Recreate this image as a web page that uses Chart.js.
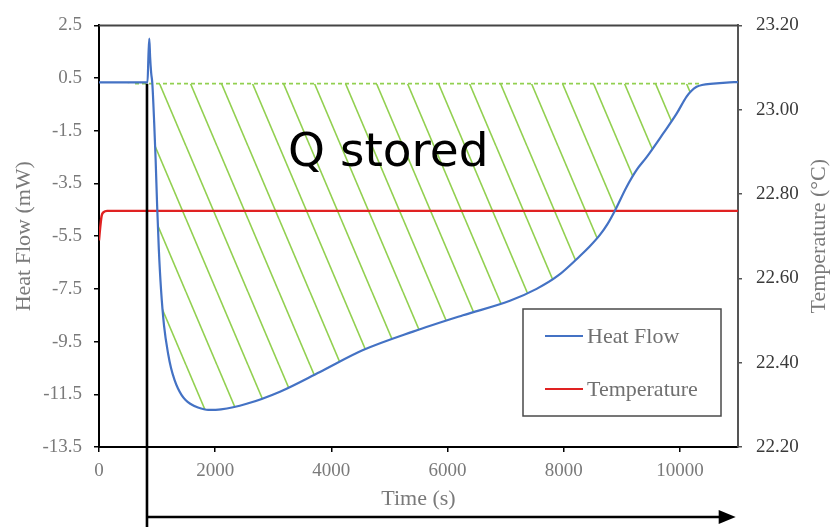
<!DOCTYPE html>
<html>
<head>
<meta charset="utf-8">
<script src="https://cdn.jsdelivr.net/npm/chart.js@4/dist/chart.umd.min.js"></script>
<style>
  html, body { margin: 0; padding: 0; background: #ffffff; }
  #wrap { width: 830px; height: 527px; position: relative; }
</style>
</head>
<body>
<div id="wrap"><canvas id="chart" width="830" height="527"></canvas></div>
<script>
// Axis ticks
const timeTicks = [0, 2000, 4000, 6000, 8000, 10000];
const heatFlowTicks = [-13.5, -11.5, -9.5, -7.5, -5.5, -3.5, -1.5, 0.5, 2.5];
const tempTicks = [22.2, 22.4, 22.6, 22.8, 23.0, 23.2];

// Heat flow trace (time in s, heat flow in mW)
const hfTime = [0, 500, 835, 852, 866, 880, 898, 918, 950, 975, 1000, 1030, 1067, 1120, 1193, 1240, 1300, 1360, 1420, 1490, 1570, 1704, 1880, 2100, 2542, 3115, 3804, 4546, 5405, 6266, 7074, 7533, 7900, 8279, 8450, 8623, 8750, 8881, 9082, 9250, 9427, 9713, 9943, 10115, 10200, 10287, 10380, 10573, 10800, 11000];
const hfValue = [0.34, 0.34, 0.34, 1.4, 2.0, 1.3, 0.7, 0.3, -1.2, -2.6, -4.3, -6.0, -7.5, -8.9, -10.0, -10.5, -10.95, -11.28, -11.52, -11.72, -11.86, -12.0, -12.09, -12.07, -11.86, -11.4, -10.65, -9.82, -9.12, -8.5, -7.95, -7.5, -7.0, -6.25, -5.88, -5.45, -5.05, -4.53, -3.63, -3.0, -2.5, -1.6, -0.85, -0.2, 0.02, 0.17, 0.24, 0.29, 0.33, 0.35];

// Temperature trace (time in s, °C)
const tempTime = [0, 20, 45, 80, 140, 11000];
const tempValue = [22.69, 22.72, 22.748, 22.757, 22.76, 22.76];

// Integration baseline for the stored heat
const baselineTime = [620, 10340];
const baselineValue = [0.29, 0.29];

// Start of the storage interval and end of its arrow (s)
const storedStart = 826;
const storedEnd = 10960;
const storedLabel = 'Q stored';

const GREEN = '#92D050';
const serif = '"Liberation Serif", "Times New Roman", serif';

function toPoints(xs, ys) { return xs.map((x, i) => ({ x: x, y: ys[i] })); }

function hatchPattern() {
  const w = 31, h = 73;
  const c = document.createElement('canvas');
  c.width = w; c.height = h;
  const g = c.getContext('2d');
  g.strokeStyle = GREEN;
  g.lineWidth = 1.6;
  for (const dx of [-w, 0, w]) {
    g.beginPath();
    g.moveTo(dx, 0);
    g.lineTo(dx + w, h);
    g.stroke();
  }
  return g.createPattern(c, 'repeat');
}

const decorations = {
  id: 'decorations',
  afterDraw(chart) {
    const { ctx, chartArea: a, scales } = chart;
    const x = scales.x, y = scales.y;
    ctx.save();

    // frame top edge
    ctx.strokeStyle = '#454545';
    ctx.lineWidth = 2;
    ctx.beginPath();
    ctx.moveTo(a.left, a.top);
    ctx.lineTo(a.right, a.top);
    ctx.stroke();

    // annotation text
    ctx.fillStyle = '#000000';
    ctx.font = '47px "DejaVu Sans", Verdana, sans-serif';
    ctx.textAlign = 'left';
    ctx.textBaseline = 'alphabetic';
    ctx.fillText(storedLabel, x.getPixelForValue(3253), y.getPixelForValue(-2.82));

    // storage interval marker: vertical line and time arrow
    const sx = x.getPixelForValue(storedStart);
    const sy = y.getPixelForValue(baselineValue[0]);
    const ay = a.bottom + 70;
    const ex = x.getPixelForValue(storedEnd);
    ctx.strokeStyle = '#000000';
    ctx.lineWidth = 2.6;
    ctx.beginPath();
    ctx.moveTo(sx, sy);
    ctx.lineTo(sx, chart.height + 2);
    ctx.stroke();
    ctx.beginPath();
    ctx.moveTo(sx, ay);
    ctx.lineTo(ex - 14, ay);
    ctx.stroke();
    ctx.fillStyle = '#000000';
    ctx.beginPath();
    ctx.moveTo(ex, ay);
    ctx.lineTo(ex - 17, ay - 7);
    ctx.lineTo(ex - 17, ay + 7);
    ctx.closePath();
    ctx.fill();

    // legend
    const lx = 523, ly = 309, lw = 198, lh = 107;
    ctx.fillStyle = '#ffffff';
    ctx.fillRect(lx, ly, lw, lh);
    ctx.strokeStyle = '#4a4a4a';
    ctx.lineWidth = 1.5;
    ctx.strokeRect(lx, ly, lw, lh);
    const rows = [chart.data.datasets[0], chart.data.datasets[1]];
    ctx.font = '22px ' + serif;
    ctx.textBaseline = 'middle';
    rows.forEach((ds, i) => {
      const ry = 336 + i * 53;
      ctx.strokeStyle = ds.borderColor;
      ctx.lineWidth = 2;
      ctx.beginPath();
      ctx.moveTo(545, ry);
      ctx.lineTo(583, ry);
      ctx.stroke();
      ctx.fillStyle = '#707070';
      ctx.fillText(ds.label, 587, ry + 1);
    });

    // right axis title, reading upward
    ctx.save();
    ctx.translate(819, (a.top + a.bottom) / 2);
    ctx.rotate(-Math.PI / 2);
    ctx.textAlign = 'center';
    ctx.textBaseline = 'middle';
    ctx.fillStyle = '#7a7a7a';
    ctx.font = '22px ' + serif;
    ctx.fillText('Temperature (\u00B0C)', 0, 0);
    ctx.restore();

    ctx.restore();
  }
};

const ctx = document.getElementById('chart').getContext('2d');

new Chart(ctx, {
  type: 'line',
  data: {
    datasets: [
      {
        label: 'Heat Flow',
        data: toPoints(hfTime, hfValue),
        yAxisID: 'y',
        borderColor: '#4472C4',
        borderWidth: 2.2,
        pointRadius: 0,
        cubicInterpolationMode: 'monotone',
        fill: { target: { value: baselineValue[0] }, above: 'rgba(0,0,0,0)', below: hatchPattern() },
        order: 0
      },
      {
        label: 'Temperature',
        data: toPoints(tempTime, tempValue),
        yAxisID: 'y1',
        borderColor: '#e02222',
        borderWidth: 2.4,
        pointRadius: 0,
        cubicInterpolationMode: 'monotone',
        fill: false,
        order: 1
      },
      {
        label: 'Baseline',
        data: toPoints(baselineTime, baselineValue),
        yAxisID: 'y',
        borderColor: GREEN,
        borderWidth: 1.6,
        borderDash: [4, 3],
        pointRadius: 0,
        fill: false,
        order: 2
      }
    ]
  },
  options: {
    responsive: false,
    animation: false,
    layout: { padding: { top: 19, left: 0, right: 0, bottom: 0 } },
    plugins: {
      legend: { display: false },
      tooltip: { enabled: false },
      filler: { drawTime: 'beforeDatasetsDraw' }
    },
    scales: {
      x: {
        type: 'linear',
        position: 'bottom',
        min: 0,
        max: 11000,
        afterBuildTicks: s => { s.ticks = timeTicks.map(v => ({ value: v })); },
        afterFit: s => { s.height = 80; },
        ticks: {
          color: '#7a7a7a',
          font: { family: serif, size: 19 },
          padding: 8,
          maxRotation: 0,
          callback: v => String(v)
        },
        grid: { drawOnChartArea: false, drawTicks: true, tickLength: 5, color: '#000000', lineWidth: 1.5 },
        border: { display: true, color: '#000000', width: 2 },
        title: {
          display: true,
          text: 'Time (s)',
          color: '#7a7a7a',
          font: { family: serif, size: 22 },
          padding: { top: 0, bottom: 15 }
        }
      },
      y: {
        type: 'linear',
        position: 'left',
        min: -13.5,
        max: 2.5,
        afterBuildTicks: s => { s.ticks = heatFlowTicks.map(v => ({ value: v })); },
        afterFit: s => { s.width = 99; },
        ticks: {
          color: '#7a7a7a',
          font: { family: serif, size: 19 },
          padding: 12,
          callback: v => Number(v).toFixed(1)
        },
        grid: { drawOnChartArea: false, drawTicks: true, tickLength: 5, color: '#000000', lineWidth: 1.5 },
        border: { display: true, color: '#000000', width: 2 },
        title: {
          display: true,
          text: 'Heat Flow (mW)',
          color: '#7a7a7a',
          font: { family: serif, size: 22 },
          padding: { top: 11, bottom: 0 }
        }
      },
      y1: {
        type: 'linear',
        position: 'right',
        min: 22.2,
        max: 23.2,
        afterBuildTicks: s => { s.ticks = tempTicks.map(v => ({ value: v })); },
        afterFit: s => { s.width = 92; },
        ticks: {
          color: '#3a3a3a',
          font: { family: serif, size: 19 },
          padding: 14,
          callback: v => Number(v).toFixed(2)
        },
        grid: { drawOnChartArea: false, drawTicks: true, tickLength: 4, color: '#555555', lineWidth: 1.5 },
        border: { display: true, color: '#555555', width: 2 },
        title: { display: false }
      }
    }
  },
  plugins: [decorations]
});
</script>
</body>
</html>
